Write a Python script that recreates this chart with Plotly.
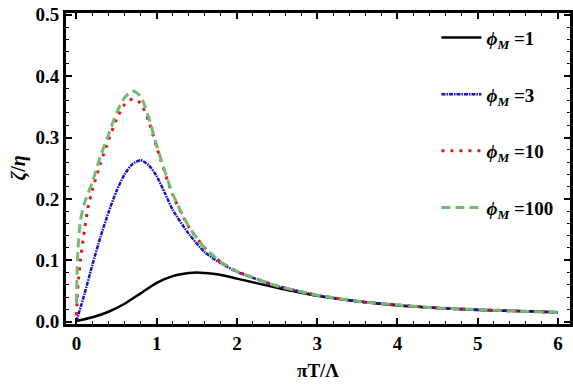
import plotly.graph_objects as go

# phi_M = 1
x1 = [0, 0.2, 0.4, 0.6, 0.8, 1.0, 1.2, 1.4, 1.5, 1.6, 1.8, 2.0, 2.5, 3.0, 3.5, 4.0, 4.5, 5.0, 5.5, 6.0]
y1 = [0.001, 0.007, 0.016, 0.029, 0.046, 0.063, 0.074, 0.079, 0.080, 0.079, 0.076, 0.070, 0.055, 0.042, 0.033, 0.026, 0.022, 0.019, 0.017, 0.015]

# phi_M = 3
x3 = [0, 0.1, 0.2, 0.3, 0.4, 0.5, 0.6, 0.7, 0.8, 0.9, 1.0, 1.1, 1.2, 1.4, 1.6, 1.8, 2.0, 2.5, 3.0, 3.5, 4.0, 4.5, 5.0, 5.5, 6.0]
y3 = [0.0, 0.045, 0.093, 0.138, 0.178, 0.213, 0.240, 0.257, 0.263, 0.255, 0.237, 0.210, 0.182, 0.143, 0.113, 0.095, 0.081, 0.058, 0.043, 0.033, 0.027, 0.022, 0.0195, 0.017, 0.015]

# phi_M = 10
x10 = [0, 0.02, 0.05, 0.1, 0.15, 0.2, 0.3, 0.4, 0.5, 0.6, 0.7, 0.8, 0.9, 1.0, 1.2, 1.4, 1.6, 1.8, 2.0, 2.5, 3.0, 3.5, 4.0, 4.5, 5.0, 5.5, 6.0]
y10 = [0.01, 0.06, 0.10, 0.15, 0.19, 0.215, 0.258, 0.296, 0.330, 0.354, 0.363, 0.356, 0.327, 0.284, 0.206, 0.154, 0.120, 0.097, 0.082, 0.058, 0.043, 0.033, 0.027, 0.022, 0.0195, 0.017, 0.015]

# phi_M = 100
x100 = [0, 0.01, 0.02, 0.05, 0.1, 0.2, 0.3, 0.4, 0.5, 0.6, 0.7, 0.8, 0.9, 1.0, 1.2, 1.4, 1.6, 1.8, 2.0, 2.5, 3.0, 3.5, 4.0, 4.5, 5.0, 5.5, 6.0]
y100 = [0.03, 0.09, 0.12, 0.165, 0.193, 0.228, 0.270, 0.305, 0.340, 0.365, 0.376, 0.367, 0.333, 0.287, 0.208, 0.155, 0.120, 0.097, 0.082, 0.058, 0.043, 0.033, 0.027, 0.022, 0.0195, 0.017, 0.015]

names = ["<b><i>ϕ</i><sub><i>M</i></sub> =1</b>", "<b><i>ϕ</i><sub><i>M</i></sub> =3</b>",
         "<b><i>ϕ</i><sub><i>M</i></sub> =10</b>", "<b><i>ϕ</i><sub><i>M</i></sub> =100</b>"]

xtick_vals = [0, 1, 2, 3, 4, 5, 6]
ytick_vals = [0.0, 0.1, 0.2, 0.3, 0.4, 0.5]
ytick_text = ["0.0", "0.1", "0.2", "0.3", "0.4", "0.5"]

FONT = "Liberation Serif"

fig = go.Figure()
series = [
    (x1, y1, names[0], "#000000", "solid", 2.5),
    (x3, y3, names[1], "#1414c8", "4px,1px,1.5px,1px", 2.5),
    (x10, y10, names[2], "#e8141c", "3px,6px", 3),
    (x100, y100, names[3], "#72bb72", "9px,5px", 3),
]
for i, (xs, ys, nm, col, dash, w) in enumerate(series):
    fig.add_trace(go.Scatter(x=xs, y=ys, mode="lines", name=nm,
                             line=dict(color=col, dash=dash, width=w, shape="spline", smoothing=0.6),
                             legendgroup=str(i)))

axis_common = dict(showline=True, linewidth=3, linecolor="black", mirror="allticks",
                   ticks="inside", ticklen=6, tickwidth=1.5, tickcolor="black",
                   showgrid=False, zeroline=False, automargin=False,
                   tickfont=dict(family=FONT, size=19, color="black"))

fig.update_xaxes(range=[-0.13, 6.15], tickvals=xtick_vals,
                 ticktext=[f"<b>{v}</b>" for v in xtick_vals],
                 minor=dict(dtick=0.2, ticklen=3, ticks="inside", tickcolor="black", tickwidth=1),
                 **axis_common)
fig.update_yaxes(range=[-0.004, 0.503], tickvals=ytick_vals, ticktext=[f"<b>{t}</b>" for t in ytick_text],
                 minor=dict(dtick=0.02, ticklen=3, ticks="inside", tickcolor="black", tickwidth=1),
                 **axis_common)

fig.update_layout(
    width=573, height=387,
    margin=dict(l=66, r=3, t=13, b=63, autoexpand=False),
    plot_bgcolor="white", paper_bgcolor="white",
    font=dict(family=FONT, color="black"),
    legend=dict(x=0.735, y=0.982, xanchor="left", yanchor="top",
                font=dict(family=FONT, size=19, color="black"),
                itemwidth=40, tracegroupgap=29, bgcolor="rgba(0,0,0,0)"),
    annotations=[
        dict(text="<b>πT/Λ</b>", xref="paper", yref="paper", x=0.5, y=-0.148,
             xanchor="center", yanchor="middle", showarrow=False,
             font=dict(family=FONT, size=19, color="black")),
        dict(text="<b><i>ζ</i>/<i>η</i></b>", xref="paper", yref="paper", x=-0.095, y=0.5,
             xanchor="center", yanchor="middle", showarrow=False, textangle=-90,
             font=dict(family=FONT, size=20, color="black")),
    ],
)

fig.write_html("out.html", config={"displayModeBar": False},
               post_script="document.body.style.margin='0';document.body.style.overflow='hidden';")
